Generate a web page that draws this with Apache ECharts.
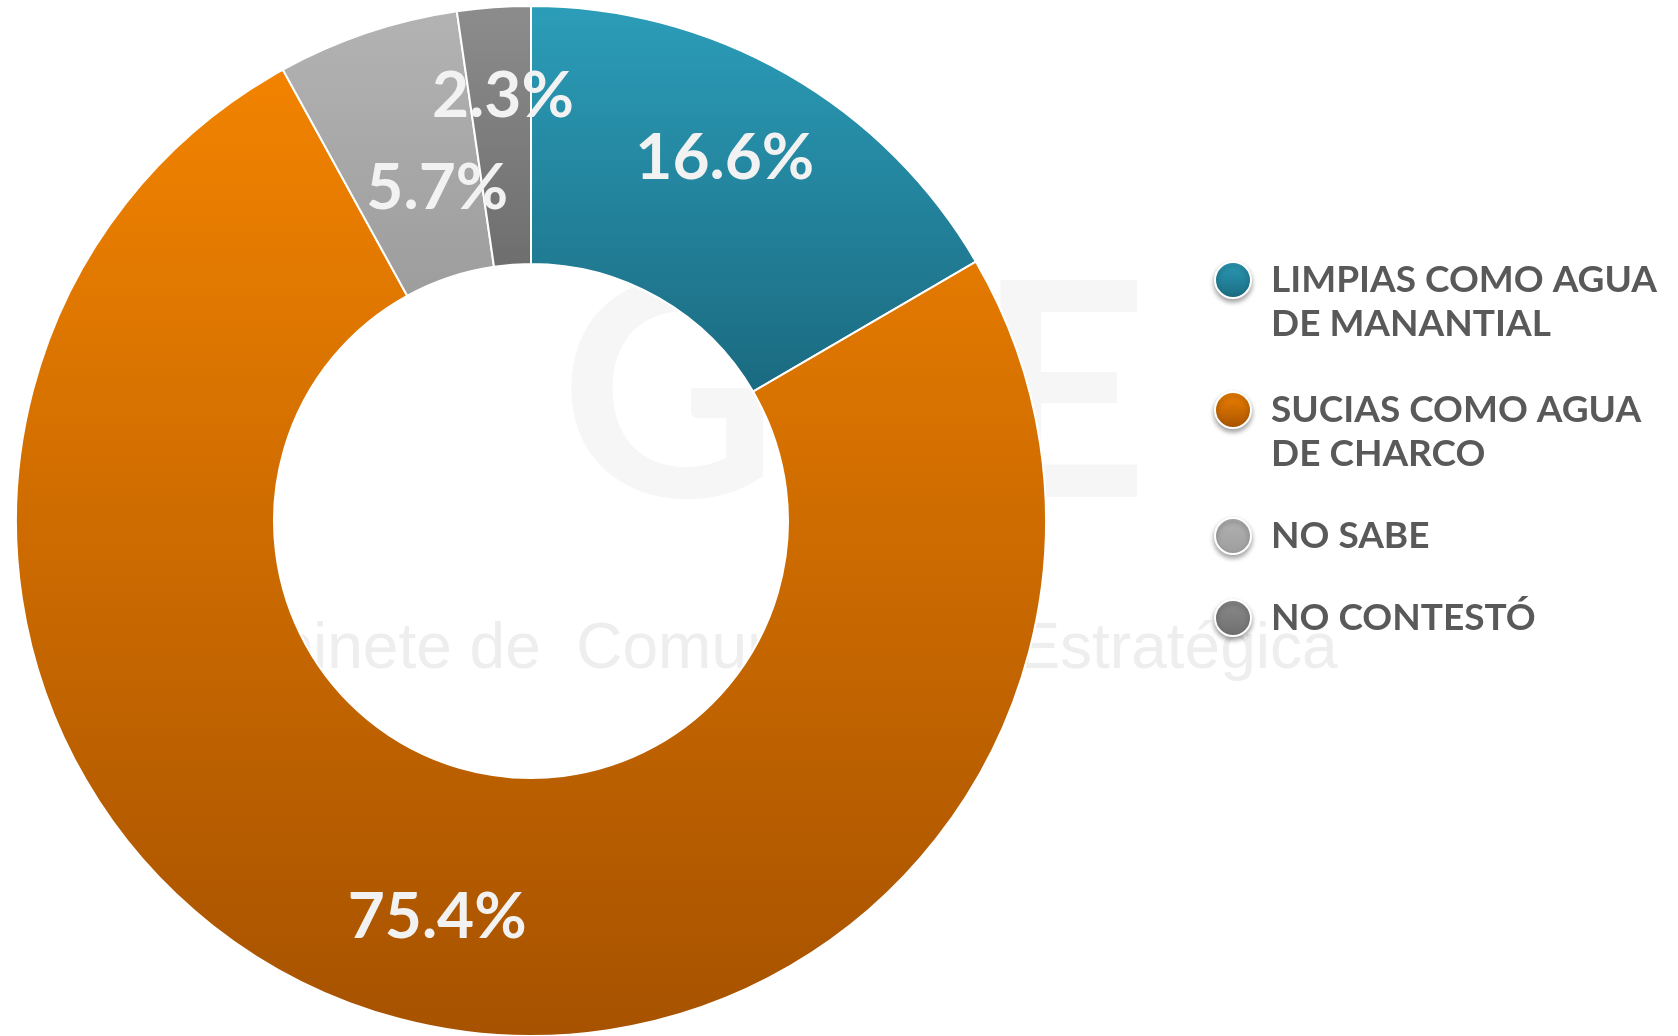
<!DOCTYPE html>
<html>
<head>
<meta charset="utf-8">
<title>Aguas</title>
<script src="https://cdn.jsdelivr.net/npm/echarts@6/dist/echarts.min.js"></script>
<style>
  html, body { margin: 0; padding: 0; background: #fff; }
  #chart { width: 1678px; height: 1036px; }
</style>
</head>
<body>
<div id="chart"></div>
<script>
// data
const categories = [
  'LIMPIAS COMO AGUA\nDE MANANTIAL',
  'SUCIAS COMO AGUA\nDE CHARCO',
  'NO SABE',
  'NO CONTESTÓ'
];
const values = [16.6, 75.4, 5.7, 2.3];

// styles
const topColors = ['#2c9db9', '#f28300', '#b3b3b3', '#8c8c8c'];
const bottomColors = ['#1a6a80', '#a65200', '#9d9d9d', '#6e6e6e'];
const legendTops = [214, 344, 514, 596];
// label nudges from the ring's mid radius [dx, dy]
const labelShift = [[0, -25], [10, 21], [30, 36], [0, -37]];
const font = 'Lato, "Open Sans", sans-serif';

const chart = echarts.init(document.getElementById('chart'));

const gradient = (i) => new echarts.graphic.LinearGradient(0, 0, 0, 1, [
  { offset: 0, color: topColors[i] },
  { offset: 1, color: bottomColors[i] }
]);

const legendText = (name) => {
  const lines = name.split('\n').map((l) => '{t|' + l + '}');
  // blank first line keeps the dot level with the first text line
  return (lines.length > 1 ? '{t|}\n' : '') + lines.join('\n');
};

const legends = categories.map((name, i) => ({
  data: [name],
  orient: 'vertical',
  left: 1214,
  top: legendTops[i],
  padding: 0,
  icon: 'circle',
  itemWidth: 36,
  itemHeight: 36,
  itemGap: 0,
  selectedMode: false,
  formatter: legendText,
  itemStyle: {
    borderColor: '#ffffff',
    borderWidth: 2,
    shadowBlur: 5,
    shadowOffsetY: 3,
    shadowColor: 'rgba(0,0,0,0.35)'
  },
  textStyle: {
    fontFamily: font,
    fontWeight: 'bold',
    fontSize: 37,
    lineHeight: 44,
    color: '#595959',
    rich: {
      t: {
        fontFamily: font,
        fontWeight: 'bold',
        fontSize: 37,
        lineHeight: 44,
        color: '#595959',
        padding: [0, 0, 0, 15]
      }
    }
  }
}));

chart.setOption({
  animation: false,
  backgroundColor: '#ffffff',
  graphic: [
    {
      type: 'text',
      z: 0,
      left: 560,
      top: 250,
      style: {
        text: 'GCE',
        font: 'bold 300px Lato, sans-serif',
        fill: '#f6f6f6'
      }
    },
    {
      type: 'text',
      z: 0,
      left: 192,
      top: 618,
      style: {
        text: 'Gabinete de  Comunicación  Estratégica',
        font: '64px "Liberation Sans", Arial, sans-serif',
        fill: '#eeeeee'
      }
    }
  ],
  legend: legends,
  series: [
    {
      type: 'pie',
      z: 2,
      center: [531, 521],
      radius: [257, 515],
      startAngle: 90,
      clockwise: true,
      avoidLabelOverlap: false,
      labelLayout: (p) => ({
        hideOverlap: false,
        dx: labelShift[p.dataIndex][0],
        dy: labelShift[p.dataIndex][1]
      }),
      label: {
        show: true,
        position: 'inside',
        fontFamily: font,
        fontWeight: 'bold',
        fontSize: 64,
        color: '#f2f2f2',
        formatter: (p) => p.value.toFixed(1) + '%'
      },
      labelLine: { show: false },
      emphasis: { disabled: true },
      itemStyle: {
        borderColor: '#ffffff',
        borderWidth: 2
      },
      data: categories.map((name, i) => ({
        name,
        value: values[i],
        itemStyle: { color: gradient(i) }
      }))
    }
  ]
});
</script>
</body>
</html>
